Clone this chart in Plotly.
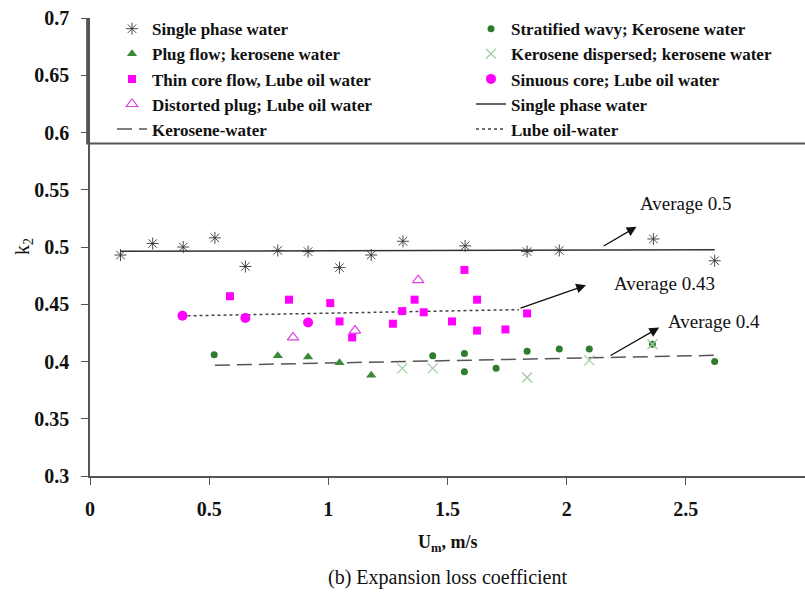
import plotly.graph_objects as go

# ---- data ----
sp_x = [0.128, 0.263, 0.391, 0.524, 0.652, 0.788, 0.915, 1.047, 1.18, 1.313, 1.574, 1.834, 1.969, 2.364, 2.621]
sp_y = [0.493, 0.503, 0.500, 0.508, 0.483, 0.497, 0.496, 0.482, 0.493, 0.505, 0.501, 0.496, 0.497, 0.507, 0.488]
sw_x = [0.521, 1.438, 1.571, 1.571, 1.704, 1.834, 1.969, 2.095, 2.360, 2.621]
sw_y = [0.406, 0.405, 0.407, 0.391, 0.394, 0.409, 0.411, 0.411, 0.415, 0.400]
pf_x = [0.788, 0.915, 1.047, 1.18]
pf_y = [0.405, 0.404, 0.399, 0.388]
kd_x = [1.31, 1.438, 1.834, 2.095, 2.36]
kd_y = [0.394, 0.394, 0.386, 0.401, 0.415]
tc_x = [0.587, 0.835, 1.008, 1.047, 1.10, 1.271, 1.31, 1.362, 1.40, 1.519, 1.571, 1.624, 1.624, 1.743, 1.834]
tc_y = [0.457, 0.454, 0.451, 0.435, 0.421, 0.433, 0.444, 0.454, 0.443, 0.435, 0.480, 0.454, 0.427, 0.428, 0.442]
sc_x = [0.388, 0.652, 0.915]
sc_y = [0.440, 0.438, 0.434]
dp_x = [0.852, 1.112, 1.377]
dp_y = [0.421, 0.427, 0.471]

water_line_x = [0.128, 2.621]
water_line_y = [0.4963, 0.4975]
kero_line_x = [0.524, 2.621]
kero_line_y = [0.3967, 0.4054]
lube_line_x = [0.384, 1.80]
lube_line_y = [0.4398, 0.4453]

avg_labels = ["Average 0.5", "Average 0.43", "Average 0.4"]
avg_text_x = [2.50, 2.409, 2.618]
avg_text_y = [0.538, 0.468, 0.4351]
avg_tail_x = [2.149, 1.80, 2.178]
avg_tail_y = [0.5001, 0.4462, 0.4045]
avg_tip_x = [2.293, 2.081, 2.388]
avg_tip_y = [0.5176, 0.4666, 0.4296]

x_ticks = [0, 0.5, 1, 1.5, 2, 2.5, 3]
y_ticks = [0.3, 0.35, 0.4, 0.45, 0.5, 0.55, 0.6, 0.65, 0.7]

SERIF = "Liberation Serif"

fig = go.Figure()

# lines
fig.add_trace(go.Scatter(x=water_line_x, y=water_line_y, mode="lines", name="Single phase water",
                         line=dict(color="#333333", width=1.5), legend="legend2", legendrank=4))
fig.add_trace(go.Scatter(x=kero_line_x, y=kero_line_y, mode="lines", name="Kerosene-water",
                         line=dict(color="#555555", width=1.5, dash="15px,7px"),
                         legend="legend", legendrank=5))
fig.add_trace(go.Scatter(x=lube_line_x, y=lube_line_y, mode="lines", name="Lube oil-water",
                         line=dict(color="#444444", width=1.5, dash="dot"),
                         legend="legend2", legendrank=5))

# markers
fig.add_trace(go.Scatter(x=sp_x, y=sp_y, mode="markers", name="Single phase water",
                         marker=dict(symbol="asterisk-open", size=10, color="#333333",
                                     line=dict(color="#333333", width=0.9)),
                         legend="legend", legendrank=1))
fig.add_trace(go.Scatter(x=sw_x, y=sw_y, mode="markers", name="Stratified wavy; Kerosene water",
                         marker=dict(symbol="circle", size=7, color="#2e7d2e"),
                         legend="legend2", legendrank=1))
fig.add_trace(go.Scatter(x=pf_x, y=pf_y, mode="markers", name="Plug flow; kerosene water",
                         marker=dict(symbol="triangle-up", size=9, color="#3a8a3a"),
                         legend="legend", legendrank=2))
fig.add_trace(go.Scatter(x=kd_x, y=kd_y, mode="markers", name="Kerosene dispersed; kerosene water",
                         marker=dict(symbol="x-thin-open", size=10, color="#a3cca3",
                                     line=dict(color="#a3cca3", width=1.3)),
                         legend="legend2", legendrank=2))
fig.add_trace(go.Scatter(x=tc_x, y=tc_y, mode="markers", name="Thin core flow, Lube oil water",
                         marker=dict(symbol="square", size=8, color="#ff00ff"),
                         legend="legend", legendrank=3))
fig.add_trace(go.Scatter(x=sc_x, y=sc_y, mode="markers", name="Sinuous core; Lube oil water",
                         marker=dict(symbol="circle", size=10, color="#ff00ff"),
                         legend="legend2", legendrank=3))
fig.add_trace(go.Scatter(x=dp_x, y=dp_y, mode="markers", name="Distorted plug; Lube oil water",
                         marker=dict(symbol="triangle-up-open", size=10, color="#e040e0",
                                     line=dict(color="#e040e0", width=1.2)),
                         legend="legend", legendrank=4))

annotations = []
for lab, tx, ty, ax, ay, hx, hy in zip(avg_labels, avg_text_x, avg_text_y,
                                       avg_tail_x, avg_tail_y, avg_tip_x, avg_tip_y):
    annotations.append(dict(x=hx, y=hy, ax=ax, ay=ay, xref="x", yref="y", axref="x", ayref="y",
                            text="", showarrow=True, arrowhead=2, arrowsize=1.5, arrowwidth=1.3,
                            arrowcolor="#111111"))
    annotations.append(dict(x=tx, y=ty, xref="x", yref="y", text=lab, showarrow=False,
                            font=dict(family=SERIF, size=19, color="#111111")))

annotations.append(dict(x=0.5, y=-(543 - 476) / 458, xref="paper", yref="paper",
                        text="<b>U<sub>m</sub>, m/s</b>", showarrow=False, yanchor="middle",
                        font=dict(family=SERIF, size=18, color="#111111")))
annotations.append(dict(x=0.5, y=-(577 - 476) / 458, xref="paper", yref="paper",
                        text="(b) Expansion loss coefficient", showarrow=False, yanchor="middle",
                        font=dict(family=SERIF, size=20, color="#111111")))
annotations.append(dict(x=-67 / 715, y=(476 - 247) / 458, xref="paper", yref="paper",
                        text="k<sub>2</sub>", showarrow=False, textangle=-90,
                        xanchor="center", yanchor="middle",
                        font=dict(family=SERIF, size=20, color="#111111")))

legend_font = dict(family=SERIF, size=17, color="#111111", weight="bold")

fig.update_layout(
    width=805, height=594,
    margin=dict(l=90, r=0, t=18, b=118),
    paper_bgcolor="white", plot_bgcolor="white",
    font=dict(family=SERIF, color="#111111"),
    showlegend=True,
    legend=dict(orientation="v", x=22 / 715, y=1.015, xanchor="left", yanchor="top",
                bgcolor="rgba(0,0,0,0)", borderwidth=0, font=legend_font,
                traceorder="normal"),
    legend2=dict(orientation="v", x=381 / 715, y=1.015, xanchor="left", yanchor="top",
                 bgcolor="rgba(0,0,0,0)", borderwidth=0, font=legend_font,
                 traceorder="normal"),
    xaxis=dict(range=[0, 3], tickvals=x_ticks, ticktext=[str(v) for v in x_ticks],
               showgrid=False, zeroline=False, showline=True, linecolor="#555555", linewidth=1.5,
               ticks="outside", ticklen=7, tickcolor="#555555", ticklabelstandoff=7,
               tickfont=dict(family=SERIF, size=20, color="#111111", weight="bold")),
    yaxis=dict(range=[0.3, 0.7], tickvals=y_ticks, ticktext=[f"{v:g}" for v in y_ticks],
               showgrid=False, zeroline=False, showline=True, linecolor="#555555", linewidth=1.5,
               ticks="outside", ticklen=7, tickcolor="#555555", ticklabelstandoff=8,
               tickfont=dict(family=SERIF, size=20, color="#111111", weight="bold")),
    annotations=annotations,
    shapes=[dict(type="rect", xref="paper", yref="y", x0=-0.004, x1=1.02, y0=0.5905, y1=0.7015,
                 line=dict(color="#555555", width=2), fillcolor="rgba(0,0,0,0)", layer="above")],
)

fig.write_html("out.html")
